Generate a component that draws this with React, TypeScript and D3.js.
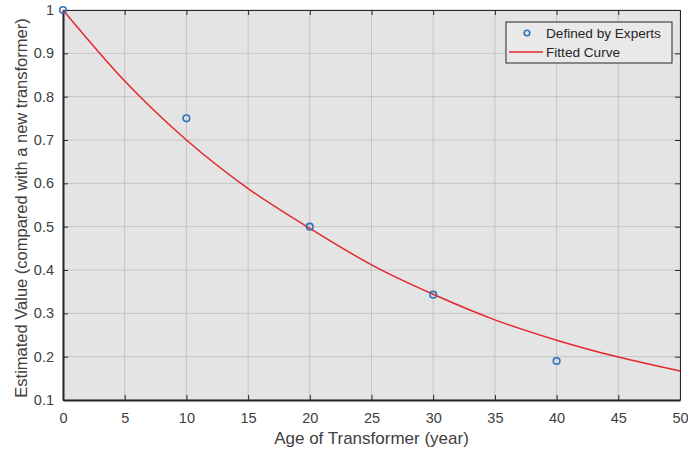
import React, { useEffect, useRef } from 'react';
import * as d3 from 'd3';

// expert points
const expertAge = [0, 10, 20, 30, 40];
const expertValue = [1, 0.75, 0.5, 0.343, 0.19];

// fitted curve
const fitAge = [0, 5, 10, 15, 20, 25, 30, 35, 40, 45, 50];
const fitValue = [1, 0.836, 0.7, 0.588, 0.496, 0.412, 0.344, 0.285, 0.238, 0.199, 0.167];

const xTicks = [0, 5, 10, 15, 20, 25, 30, 35, 40, 45, 50];
const yTicks = [0.1, 0.2, 0.3, 0.4, 0.5, 0.6, 0.7, 0.8, 0.9, 1];

const legendLabels = ['Defined by Experts', 'Fitted Curve'];

function App() {
  const svgRef = useRef(null);

  const W = 688;
  const H = 452;
  const margin = { top: 10, right: 8, bottom: 52, left: 63 };
  const width = W - margin.left - margin.right;
  const height = H - margin.top - margin.bottom;

  useEffect(() => {
    const root = d3.select(svgRef.current);
    root.selectAll('*').remove();
    root.attr('width', W).attr('height', H);

    const font = 'Liberation Sans, Arial, Helvetica, sans-serif';
    const textCol = '#404040';

    const svg = root.append('g').attr('transform', `translate(${margin.left},${margin.top})`);

    const x = d3.scaleLinear().domain([0, 50]).range([0, width]);
    const y = d3.scaleLinear().domain([0.1, 1]).range([height, 0]);

    svg.append('rect')
      .attr('width', width)
      .attr('height', height)
      .attr('fill', '#e4e4e4');

    // grid
    svg.selectAll('.gx')
      .data(xTicks)
      .enter()
      .append('line')
      .attr('x1', d => x(d)).attr('x2', d => x(d))
      .attr('y1', 0).attr('y2', height)
      .attr('stroke', '#c4c4c4')
      .attr('stroke-width', 1);

    svg.selectAll('.gy')
      .data(yTicks)
      .enter()
      .append('line')
      .attr('x1', 0).attr('x2', width)
      .attr('y1', d => y(d)).attr('y2', d => y(d))
      .attr('stroke', '#c4c4c4')
      .attr('stroke-width', 1);

    // axes, ticks inward on all sides
    const bottom = svg.append('g')
      .attr('transform', `translate(0,${height})`)
      .call(d3.axisBottom(x).tickValues(xTicks).tickSizeInner(-5).tickSizeOuter(0).tickPadding(13).tickFormat(d3.format('d')));
    const left = svg.append('g')
      .call(d3.axisLeft(y).tickValues(yTicks).tickSizeInner(-5).tickSizeOuter(0).tickPadding(9).tickFormat(d => (d === 1 ? '1' : d3.format('.1f')(d))));
    const top = svg.append('g')
      .call(d3.axisTop(x).tickValues(xTicks).tickSizeInner(-5).tickSizeOuter(0).tickFormat(() => ''));
    const right = svg.append('g')
      .attr('transform', `translate(${width},0)`)
      .call(d3.axisRight(y).tickValues(yTicks).tickSizeInner(-5).tickSizeOuter(0).tickFormat(() => ''));

    [bottom, left, top, right].forEach(g => {
      g.selectAll('path').attr('stroke', '#262626');
      g.selectAll('line').attr('stroke', '#262626');
      g.selectAll('text')
        .attr('fill', textCol)
        .style('font-family', font)
        .style('font-size', '14.5px');
    });
    bottom.select('path').attr('stroke-width', 2);
    left.select('path').attr('stroke-width', 2);

    // fitted curve
    const line = d3.line()
      .x((d, i) => x(fitAge[i]))
      .y(d => y(d))
      .curve(d3.curveMonotoneX);

    svg.append('path')
      .datum(fitValue)
      .attr('d', line)
      .attr('fill', 'none')
      .attr('stroke', '#e5282c')
      .attr('stroke-width', 1.5);

    // expert points
    svg.selectAll('.dot')
      .data(expertValue)
      .enter()
      .append('circle')
      .attr('class', 'dot')
      .attr('cx', (d, i) => x(expertAge[i]))
      .attr('cy', d => y(d))
      .attr('r', 3.3)
      .attr('fill', 'none')
      .attr('stroke', '#2f72b8')
      .attr('stroke-width', 1.6);

    // axis labels
    svg.append('text')
      .attr('x', width / 2)
      .attr('y', height + 44)
      .attr('text-anchor', 'middle')
      .attr('fill', textCol)
      .style('font-family', font)
      .style('font-size', '17px')
      .text('Age of Transformer (year)');

    svg.append('text')
      .attr('transform', `translate(${-36},${height / 2 + 3}) rotate(-90)`)
      .attr('text-anchor', 'middle')
      .attr('fill', textCol)
      .style('font-family', font)
      .style('font-size', '16.5px')
      .text('Estimated Value (compared with a new transformer)');

    // legend
    const lg = svg.append('g').attr('transform', `translate(${506 - margin.left},${22 - margin.top})`);
    lg.append('rect')
      .attr('width', 166)
      .attr('height', 41)
      .attr('fill', '#e9e9e9')
      .attr('stroke', '#262626')
      .attr('stroke-width', 1);
    lg.append('circle')
      .attr('cx', 21).attr('cy', 11)
      .attr('r', 2.8)
      .attr('fill', 'none')
      .attr('stroke', '#2f72b8')
      .attr('stroke-width', 1.6);
    lg.append('line')
      .attr('x1', 3).attr('x2', 37)
      .attr('y1', 30).attr('y2', 30)
      .attr('stroke', '#e5282c')
      .attr('stroke-width', 1.5);
    lg.selectAll('.lt')
      .data(legendLabels)
      .enter()
      .append('text')
      .attr('x', 40)
      .attr('y', (d, i) => 16 + i * 19)
      .attr('fill', '#262626')
      .style('font-family', font)
      .style('font-size', '13.6px')
      .text(d => d);
  }, []);

  return (
    <div style={{ position: 'absolute', left: 0, top: 0 }}>
      <svg ref={svgRef}></svg>
    </div>
  );
}

export default App;
